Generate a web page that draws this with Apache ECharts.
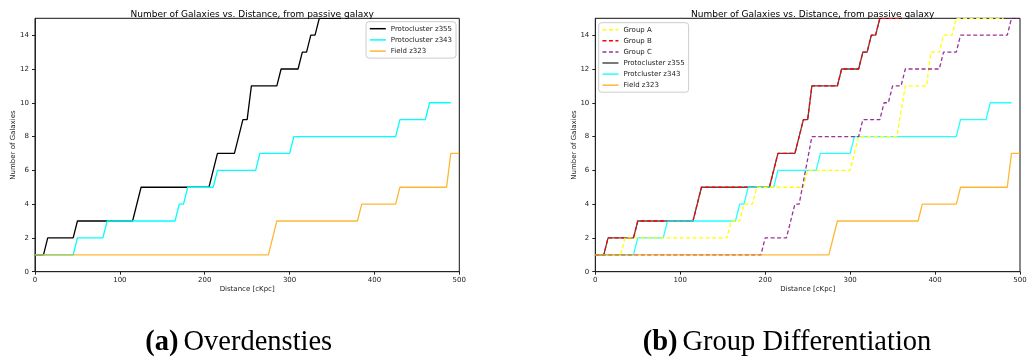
<!DOCTYPE html>
<html>
<head>
<meta charset="utf-8">
<script src="https://cdn.jsdelivr.net/npm/echarts@6/dist/echarts.min.js"></script>
<style>
html,body{margin:0;padding:0;background:#fff;}
#wrap{position:relative;width:1033px;height:358px;}
#c1{position:absolute;left:0;top:0;width:517px;height:358px;}
#c2{position:absolute;left:517px;top:0;width:516px;height:358px;}
</style>
</head>
<body>
<div id="wrap"><div id="c1"></div><div id="c2"></div></div>
<script>
// ---- data (corner points of cumulative counts) ----
const chartTitle = 'Number of Galaxies vs. Distance, from passive galaxy';
const xAxisName = 'Distance [cKpc]';
const yAxisName = 'Number of Galaxies';
const yTicks = [0, 2, 4, 6, 8, 10, 12, 14];

const protoZ355X = [0, 10, 15, 45, 50, 115, 125, 205, 215, 235, 245, 250, 255, 285, 290, 310, 315, 320, 325, 330, 335, 360, 365];
const protoZ355Y = [1, 1, 2, 2, 3, 3, 5, 5, 7, 7, 9, 9, 11, 11, 12, 12, 13, 13, 14, 14, 15, 15, 16];

const protoZ343X = [0, 45, 50, 80, 85, 165, 170, 175, 180, 210, 215, 260, 265, 300, 305, 425, 430, 460, 465, 490];
const protoZ343Y = [1, 1, 2, 2, 3, 3, 4, 4, 5, 5, 6, 6, 7, 7, 8, 8, 9, 9, 10, 10];

const fieldZ323X = [0, 275, 285, 380, 385, 425, 430, 485, 490, 500];
const fieldZ323Y = [1, 1, 3, 3, 4, 4, 5, 5, 7, 7];

const groupAX = [0, 30, 35, 155, 160, 170, 175, 185, 190, 245, 250, 300, 310, 355, 365, 390, 395, 405, 410, 420, 425, 480, 485];
const groupAY = [1, 1, 2, 2, 3, 3, 4, 4, 5, 5, 6, 6, 8, 8, 11, 11, 13, 13, 14, 14, 15, 15, 16];

const groupBX = [0, 10, 15, 45, 50, 115, 125, 205, 215, 235, 245, 250, 255, 285, 290, 310, 315, 320, 325, 330, 335, 360, 365];
const groupBY = [1, 1, 2, 2, 3, 3, 5, 5, 7, 7, 9, 9, 11, 11, 12, 12, 13, 13, 14, 14, 15, 15, 16];

const groupCX = [0, 195, 200, 225, 235, 240, 255, 310, 315, 335, 340, 345, 350, 360, 365, 405, 410, 425, 430, 485, 490, 500];
const groupCY = [1, 1, 2, 2, 4, 4, 8, 8, 9, 9, 10, 10, 11, 11, 12, 12, 13, 13, 14, 14, 15, 15];

const pairs = (xs, ys) => xs.map((x, i) => [x, ys[i]]);

const FONT = 'DejaVu Sans';

function axes(){
  return {
    xAxis: {
      type: 'value', min: 0, max: 500, interval: 100,
      name: xAxisName, nameLocation: 'middle', nameGap: 14, nameMoveOverlap: false,
      nameTextStyle: {fontFamily: FONT, fontSize: 7, color: '#222'},
      axisLine: {show: true, lineStyle: {color: '#222', width: 1}},
      axisTick: {show: true, inside: false, length: 3, lineStyle: {color: '#222'}},
      axisLabel: {fontFamily: FONT, fontSize: 7, color: '#222', margin: 5},
      splitLine: {show: false}
    },
    yAxis: {
      type: 'value', min: 0, max: 15,
      name: yAxisName, nameLocation: 'middle', nameGap: 18, nameRotate: 90, nameMoveOverlap: false,
      nameTextStyle: {fontFamily: FONT, fontSize: 7, color: '#222'},
      axisLine: {show: true, lineStyle: {color: '#222', width: 1}},
      axisTick: {show: true, inside: false, length: 3, customValues: yTicks, lineStyle: {color: '#222'}},
      axisLabel: {fontFamily: FONT, fontSize: 7, color: '#222', margin: 6, customValues: yTicks},
      splitLine: {show: false}
    }
  };
}

function lineSeries(name, data, color, opts){
  opts = opts || {};
  const op = opts.opacity == null ? 1 : opts.opacity;
  return {
    type: 'line', name: name, data: data, symbol: 'none', showSymbol: false,
    clip: true, animation: false, silent: true,
    lineStyle: {color: color, width: opts.width || 1.3, type: opts.type || 'solid', opacity: op},
    itemStyle: {color: color, opacity: op}
  };
}

const legendBase = {
  orient: 'vertical', align: 'left',
  backgroundColor: '#fff', borderColor: '#ccc', borderWidth: 1, borderRadius: 3,
  itemWidth: 16, itemHeight: 8, itemGap: 3.2,
  itemStyle: {opacity: 0, borderWidth: 0},
  lineStyle: {width: 1.5},
  textStyle: {fontFamily: FONT, fontSize: 7, color: '#222', lineHeight: 8},
  selectedMode: false
};

function caption(letter, text, cx){
  return {text: '{b|(' + letter + ')} {r|' + text + '}', left: cx, top: 323, textAlign: 'center',
    textStyle: {rich: {
      b: {fontFamily: 'Liberation Serif', fontSize: 28.5, fontWeight: 'bold', color: '#000'},
      r: {fontFamily: 'Liberation Serif', fontSize: 28.5, fontWeight: 'normal', color: '#000'}}}};
}

// ---- left chart ----
const c1 = echarts.init(document.getElementById('c1'), null, {renderer: 'canvas'});
const a1 = axes();
c1.setOption({
  animation: false,
  backgroundColor: '#fff',
  title: [
    {text: chartTitle, left: 247.2, top: 5, textAlign: 'center',
     textStyle: {fontFamily: FONT, fontSize: 9, fontWeight: 'normal', color: '#000'}},
    caption('a', 'Overdensties', 233.7)
  ],
  grid: {left: 35, right: 57.7, top: 18.3, bottom: 86.3, show: true, borderColor: '#111', borderWidth: 1, backgroundColor: 'transparent', outerBoundsMode: 'none'},
  xAxis: a1.xAxis, yAxis: a1.yAxis,
  legend: Object.assign({}, legendBase, {
    right: 61, top: 21.7, padding: [3, 4, 3, 3],
    data: ['Protocluster z355', 'Protocluster z343', 'Field z323']
  }),
  series: [
    lineSeries('Protocluster z355', pairs(protoZ355X, protoZ355Y), '#000000'),
    lineSeries('Protocluster z343', pairs(protoZ343X, protoZ343Y), '#00ffff'),
    lineSeries('Field z323', pairs(fieldZ323X, fieldZ323Y), '#ffa500', {opacity: 0.8})
  ]
});

// ---- right chart ----
const c2 = echarts.init(document.getElementById('c2'), null, {renderer: 'canvas'});
const a2 = axes();
c2.setOption({
  animation: false,
  backgroundColor: '#fff',
  title: [
    {text: chartTitle, left: (78.3 + 503) / 2, top: 5, textAlign: 'center',
     textStyle: {fontFamily: FONT, fontSize: 9, fontWeight: 'normal', color: '#000'}},
    caption('b', 'Group Differentiation', 265)
  ],
  grid: {left: 78.3, right: 13, top: 18.3, bottom: 86.3, show: true, borderColor: '#111', borderWidth: 1, backgroundColor: 'transparent', outerBoundsMode: 'none'},
  xAxis: a2.xAxis, yAxis: a2.yAxis,
  legend: Object.assign({}, legendBase, {
    left: 81.7, top: 22.7, padding: [3, 4, 3, 3], itemGap: 3.1,
    data: ['Group A', 'Group B', 'Group C', 'Protocluster z355', 'Protcluster z343', 'Field z323']
  }),
  series: [
    lineSeries('Protocluster z355', pairs(protoZ355X, protoZ355Y), '#000000', {opacity: 0.7}),
    lineSeries('Group B', pairs(groupBX, groupBY), '#ff0000', {type: [4, 2.5]}),
    lineSeries('Protcluster z343', pairs(protoZ343X, protoZ343Y), '#00ffff', {opacity: 0.85}),
    lineSeries('Group A', pairs(groupAX, groupAY), '#ffff00', {type: [4, 2.5]}),
    lineSeries('Group C', pairs(groupCX, groupCY), '#800080', {type: [4, 2.5], opacity: 0.8}),
    lineSeries('Field z323', pairs(fieldZ323X, fieldZ323Y), '#ffa500', {opacity: 0.8})
  ]
});
</script>
</body>
</html>
